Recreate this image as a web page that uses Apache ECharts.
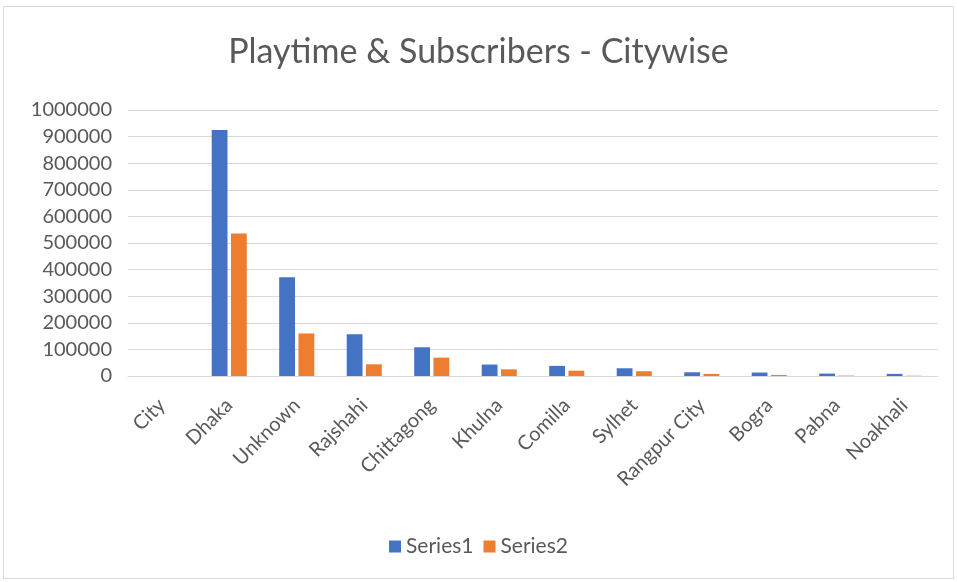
<!DOCTYPE html>
<html><head><meta charset="utf-8">
<script src="https://cdn.jsdelivr.net/npm/echarts@6/dist/echarts.min.js"></script>
<style>html,body{margin:0;padding:0;background:#fff}#c{width:957px;height:582px}</style>
</head><body><div id="c"></div>
<script>
const categories = ['City','Dhaka','Unknown','Rajshahi','Chittagong','Khulna','Comilla','Sylhet','Rangpur City','Bogra','Pabna','Noakhali'];
const series1 = [0, 925000, 371000, 157000, 108000, 43000, 38000, 29000, 14000, 13000, 9000, 8000];
const series2 = [0, 536000, 160000, 44000, 69000, 25000, 20000, 18000, 8000, 4000, 1500, 1000];
const seriesNames = ['Series1','Series2'];
const FONT = 'Lato, "Open Sans", sans-serif';
const chart = echarts.init(document.getElementById('c'), null, {renderer:'canvas'});
chart.setOption({
  animation:false,
  title:{text:'Playtime & Subscribers - Citywise', left:'center', top:30,
    textStyle:{fontFamily:FONT, fontSize:34, fontWeight:'normal', color:'#595959'}},
  graphic:[{type:'rect', shape:{x:3.5,y:6.5,width:950,height:572}, style:{fill:'none', stroke:'#d9d9d9', lineWidth:1}}],
  legend:{data:seriesNames, bottom:20, left:'center', itemWidth:12, itemHeight:12, itemGap:10,
    icon:'rect', textStyle:{fontFamily:FONT, fontSize:21, color:'#595959'}},
  grid:{left:128, right:19, top:110, bottom:206},
  xAxis:{type:'category', data:categories,
    axisLine:{lineStyle:{color:'#d9d9d9'}}, axisTick:{show:false},
    axisLabel:{rotate:45, interval:0, fontFamily:FONT, fontSize:20, color:'#595959', margin:26}},
  yAxis:{type:'value', min:0, max:1000000, interval:100000,
    axisLine:{show:false}, axisTick:{show:false},
    splitLine:{lineStyle:{color:'#d9d9d9'}},
    axisLabel:{fontFamily:FONT, fontSize:20, color:'#595959', margin:16, formatter: v => String(v)}},
  series:[
    {name:seriesNames[0], type:'bar', data:series1, itemStyle:{color:'#4472C4'}, barGap:'22%', barCategoryGap:'48%'},
    {name:seriesNames[1], type:'bar', data:series2, itemStyle:{color:'#ED7D31'}}
  ]
});
</script></body></html>
